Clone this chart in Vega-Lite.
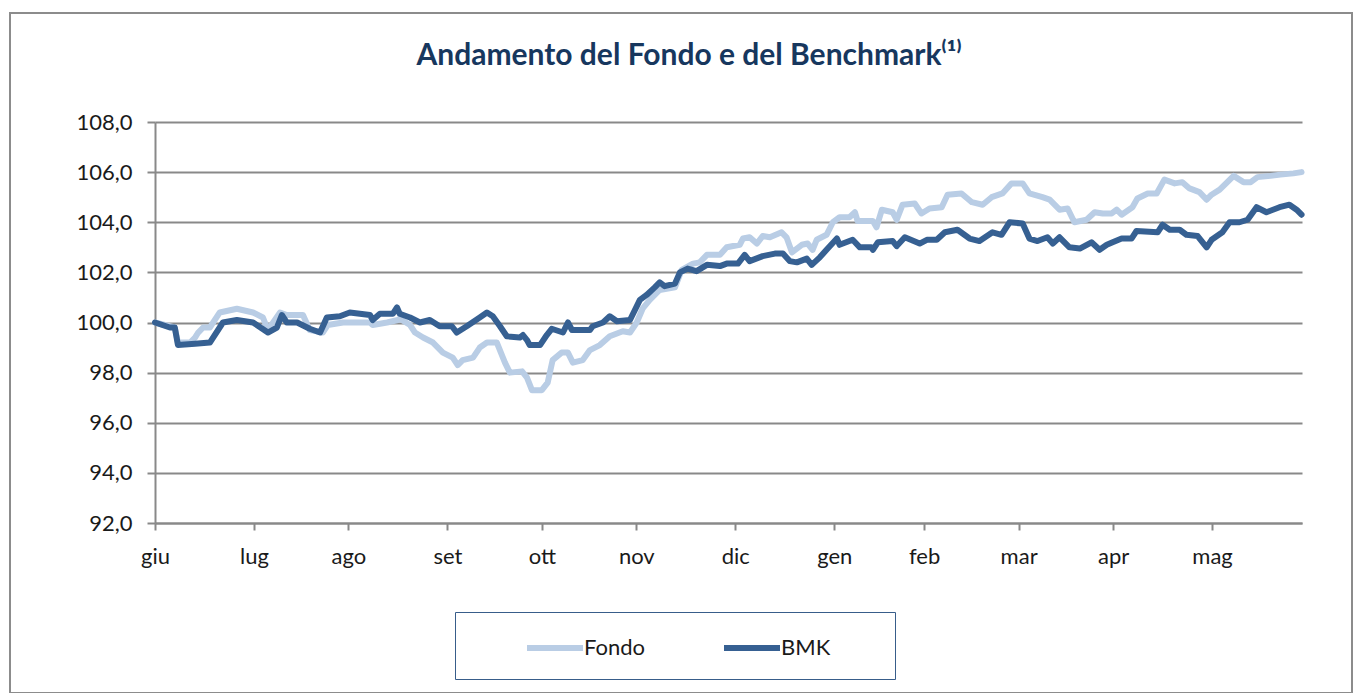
{
  "$schema": "https://vega.github.io/schema/vega-lite/v6.json",
  "width": 1342,
  "height": 680,
  "autosize": {"type": "none"},
  "padding": {"left": 10, "top": 13, "right": 6, "bottom": 0},
  "background": "white",
  "config": {
    "view": {"stroke": "#8c8c8c", "strokeWidth": 2},
    "font": "Lato"
  },
  "title": {
    "text": "Andamento del Fondo e del Benchmark⁽¹⁾",
    "anchor": "middle",
    "frame": "group",
    "dx": 8,
    "dy": 31,
    "offset": -51,
    "baseline": "alphabetic",
    "font": "Lato",
    "fontSize": 30,
    "fontWeight": "bold",
    "color": "#17375e"
  },
  "datasets": {
    "series": [
      {"s":"Fondo","d":0,"v":100.0},{"s":"Fondo","d":3.3,"v":99.85},{"s":"Fondo","d":4.4,"v":99.8},{"s":"Fondo","d":5.1,"v":99.2},{"s":"Fondo","d":7.8,"v":99.2},{"s":"Fondo","d":8.9,"v":99.4},{"s":"Fondo","d":9.6,"v":99.6},{"s":"Fondo","d":10.7,"v":99.8},{"s":"Fondo","d":12.2,"v":99.8},{"s":"Fondo","d":14.4,"v":100.4},{"s":"Fondo","d":18.2,"v":100.55},{"s":"Fondo","d":21.8,"v":100.4},{"s":"Fondo","d":24,"v":100.2},{"s":"Fondo","d":25.1,"v":99.7},{"s":"Fondo","d":27.8,"v":100.4},{"s":"Fondo","d":29.3,"v":100.3},{"s":"Fondo","d":32.9,"v":100.3},{"s":"Fondo","d":34.4,"v":99.7},{"s":"Fondo","d":37.3,"v":99.6},{"s":"Fondo","d":38.4,"v":99.9},{"s":"Fondo","d":41.8,"v":100.0},{"s":"Fondo","d":47.8,"v":100.0},{"s":"Fondo","d":48.4,"v":99.9},{"s":"Fondo","d":51.6,"v":100.0},{"s":"Fondo","d":54,"v":100.1},{"s":"Fondo","d":54.4,"v":100.15},{"s":"Fondo","d":56.7,"v":99.9},{"s":"Fondo","d":57.8,"v":99.6},{"s":"Fondo","d":59.6,"v":99.4},{"s":"Fondo","d":61.8,"v":99.2},{"s":"Fondo","d":64,"v":98.8},{"s":"Fondo","d":66.2,"v":98.6},{"s":"Fondo","d":67.3,"v":98.3},{"s":"Fondo","d":68.4,"v":98.5},{"s":"Fondo","d":70.7,"v":98.6},{"s":"Fondo","d":72.2,"v":99.0},{"s":"Fondo","d":73.8,"v":99.2},{"s":"Fondo","d":76,"v":99.2},{"s":"Fondo","d":77.8,"v":98.4},{"s":"Fondo","d":78.9,"v":98.0},{"s":"Fondo","d":81.6,"v":98.05},{"s":"Fondo","d":82.7,"v":97.8},{"s":"Fondo","d":83.8,"v":97.3},{"s":"Fondo","d":86,"v":97.3},{"s":"Fondo","d":87.3,"v":97.6},{"s":"Fondo","d":88.4,"v":98.5},{"s":"Fondo","d":90.4,"v":98.8},{"s":"Fondo","d":91.8,"v":98.8},{"s":"Fondo","d":92.9,"v":98.4},{"s":"Fondo","d":95.1,"v":98.5},{"s":"Fondo","d":96.7,"v":98.9},{"s":"Fondo","d":98.9,"v":99.1},{"s":"Fondo","d":101.1,"v":99.45},{"s":"Fondo","d":104,"v":99.65},{"s":"Fondo","d":105.6,"v":99.6},{"s":"Fondo","d":107.1,"v":100.0},{"s":"Fondo","d":108.4,"v":100.55},{"s":"Fondo","d":110,"v":100.9},{"s":"Fondo","d":112.2,"v":101.3},{"s":"Fondo","d":115.6,"v":101.4},{"s":"Fondo","d":117.1,"v":102.1},{"s":"Fondo","d":119.6,"v":102.35},{"s":"Fondo","d":121.1,"v":102.4},{"s":"Fondo","d":122.7,"v":102.7},{"s":"Fondo","d":125.6,"v":102.7},{"s":"Fondo","d":127.1,"v":103.0},{"s":"Fondo","d":130,"v":103.1},{"s":"Fondo","d":130.7,"v":103.35},{"s":"Fondo","d":132.2,"v":103.4},{"s":"Fondo","d":133.8,"v":103.15},{"s":"Fondo","d":135.1,"v":103.45},{"s":"Fondo","d":136.7,"v":103.4},{"s":"Fondo","d":139.3,"v":103.6},{"s":"Fondo","d":140.4,"v":103.4},{"s":"Fondo","d":141.6,"v":102.8},{"s":"Fondo","d":143.8,"v":103.1},{"s":"Fondo","d":145.1,"v":103.15},{"s":"Fondo","d":146.2,"v":102.9},{"s":"Fondo","d":147.1,"v":103.3},{"s":"Fondo","d":149.3,"v":103.5},{"s":"Fondo","d":150.7,"v":104.0},{"s":"Fondo","d":152.2,"v":104.2},{"s":"Fondo","d":154.4,"v":104.2},{"s":"Fondo","d":155.6,"v":104.4},{"s":"Fondo","d":156.2,"v":104.05},{"s":"Fondo","d":159.6,"v":104.05},{"s":"Fondo","d":160.4,"v":103.8},{"s":"Fondo","d":161.6,"v":104.5},{"s":"Fondo","d":164,"v":104.4},{"s":"Fondo","d":164.9,"v":104.1},{"s":"Fondo","d":166.2,"v":104.7},{"s":"Fondo","d":168.9,"v":104.75},{"s":"Fondo","d":170.4,"v":104.35},{"s":"Fondo","d":172.2,"v":104.55},{"s":"Fondo","d":174.9,"v":104.6},{"s":"Fondo","d":176.2,"v":105.1},{"s":"Fondo","d":179.3,"v":105.15},{"s":"Fondo","d":181.6,"v":104.8},{"s":"Fondo","d":184,"v":104.7},{"s":"Fondo","d":186,"v":105.0},{"s":"Fondo","d":188.4,"v":105.15},{"s":"Fondo","d":190.4,"v":105.55},{"s":"Fondo","d":192.9,"v":105.55},{"s":"Fondo","d":194.4,"v":105.15},{"s":"Fondo","d":197.3,"v":105.0},{"s":"Fondo","d":198.9,"v":104.9},{"s":"Fondo","d":201.1,"v":104.5},{"s":"Fondo","d":202.9,"v":104.55},{"s":"Fondo","d":204.4,"v":104.0},{"s":"Fondo","d":207.1,"v":104.1},{"s":"Fondo","d":208.9,"v":104.4},{"s":"Fondo","d":210.7,"v":104.35},{"s":"Fondo","d":212.7,"v":104.35},{"s":"Fondo","d":213.8,"v":104.5},{"s":"Fondo","d":214.9,"v":104.3},{"s":"Fondo","d":217.3,"v":104.6},{"s":"Fondo","d":218.4,"v":104.95},{"s":"Fondo","d":220.7,"v":105.15},{"s":"Fondo","d":222.7,"v":105.15},{"s":"Fondo","d":224.4,"v":105.7},{"s":"Fondo","d":226.7,"v":105.55},{"s":"Fondo","d":228.4,"v":105.6},{"s":"Fondo","d":230,"v":105.35},{"s":"Fondo","d":232.2,"v":105.2},{"s":"Fondo","d":233.8,"v":104.9},{"s":"Fondo","d":234.9,"v":105.1},{"s":"Fondo","d":236.7,"v":105.3},{"s":"Fondo","d":238.4,"v":105.6},{"s":"Fondo","d":239.8,"v":105.85},{"s":"Fondo","d":242,"v":105.6},{"s":"Fondo","d":243.6,"v":105.6},{"s":"Fondo","d":245.1,"v":105.8},{"s":"Fondo","d":248,"v":105.85},{"s":"Fondo","d":250.2,"v":105.9},{"s":"Fondo","d":253.1,"v":105.95},{"s":"Fondo","d":254.9,"v":106.0},
      {"s":"BMK","d":0,"v":100.0},{"s":"BMK","d":3.3,"v":99.8},{"s":"BMK","d":4.4,"v":99.8},{"s":"BMK","d":5.1,"v":99.1},{"s":"BMK","d":8.9,"v":99.15},{"s":"BMK","d":12.2,"v":99.2},{"s":"BMK","d":15.1,"v":100.0},{"s":"BMK","d":18.2,"v":100.1},{"s":"BMK","d":21.8,"v":100.0},{"s":"BMK","d":25.1,"v":99.6},{"s":"BMK","d":27.1,"v":99.8},{"s":"BMK","d":28.2,"v":100.3},{"s":"BMK","d":29.3,"v":100.0},{"s":"BMK","d":31.6,"v":100.0},{"s":"BMK","d":34.4,"v":99.75},{"s":"BMK","d":36.7,"v":99.6},{"s":"BMK","d":38.2,"v":100.2},{"s":"BMK","d":41.1,"v":100.25},{"s":"BMK","d":43.3,"v":100.4},{"s":"BMK","d":47.8,"v":100.3},{"s":"BMK","d":48.4,"v":100.1},{"s":"BMK","d":50,"v":100.35},{"s":"BMK","d":52.9,"v":100.35},{"s":"BMK","d":53.8,"v":100.6},{"s":"BMK","d":54.4,"v":100.35},{"s":"BMK","d":56.7,"v":100.2},{"s":"BMK","d":58.9,"v":100.0},{"s":"BMK","d":61.1,"v":100.1},{"s":"BMK","d":63.3,"v":99.85},{"s":"BMK","d":66,"v":99.85},{"s":"BMK","d":67.1,"v":99.6},{"s":"BMK","d":69.3,"v":99.85},{"s":"BMK","d":72.2,"v":100.2},{"s":"BMK","d":73.8,"v":100.4},{"s":"BMK","d":75.1,"v":100.25},{"s":"BMK","d":76.7,"v":99.85},{"s":"BMK","d":78.2,"v":99.45},{"s":"BMK","d":81.1,"v":99.4},{"s":"BMK","d":81.8,"v":99.5},{"s":"BMK","d":82.7,"v":99.3},{"s":"BMK","d":83.3,"v":99.1},{"s":"BMK","d":85.6,"v":99.1},{"s":"BMK","d":87.1,"v":99.5},{"s":"BMK","d":88.2,"v":99.75},{"s":"BMK","d":90.7,"v":99.6},{"s":"BMK","d":91.8,"v":100.0},{"s":"BMK","d":92.7,"v":99.7},{"s":"BMK","d":96.7,"v":99.7},{"s":"BMK","d":97.3,"v":99.85},{"s":"BMK","d":99.6,"v":100.0},{"s":"BMK","d":101.1,"v":100.25},{"s":"BMK","d":102.7,"v":100.05},{"s":"BMK","d":105.6,"v":100.1},{"s":"BMK","d":107.8,"v":100.9},{"s":"BMK","d":109.3,"v":101.1},{"s":"BMK","d":111.1,"v":101.4},{"s":"BMK","d":112.2,"v":101.6},{"s":"BMK","d":113.3,"v":101.45},{"s":"BMK","d":115.6,"v":101.55},{"s":"BMK","d":116.7,"v":102.0},{"s":"BMK","d":118.4,"v":102.15},{"s":"BMK","d":120.4,"v":102.05},{"s":"BMK","d":122.7,"v":102.3},{"s":"BMK","d":125.6,"v":102.25},{"s":"BMK","d":127.1,"v":102.35},{"s":"BMK","d":129.6,"v":102.35},{"s":"BMK","d":131.1,"v":102.7},{"s":"BMK","d":132.2,"v":102.45},{"s":"BMK","d":135.1,"v":102.65},{"s":"BMK","d":137.8,"v":102.75},{"s":"BMK","d":139.6,"v":102.75},{"s":"BMK","d":141.1,"v":102.45},{"s":"BMK","d":142.7,"v":102.4},{"s":"BMK","d":144.9,"v":102.55},{"s":"BMK","d":146,"v":102.3},{"s":"BMK","d":147.8,"v":102.6},{"s":"BMK","d":149.3,"v":102.9},{"s":"BMK","d":151.6,"v":103.35},{"s":"BMK","d":152.2,"v":103.1},{"s":"BMK","d":155.1,"v":103.3},{"s":"BMK","d":156.7,"v":103.0},{"s":"BMK","d":159.3,"v":103.0},{"s":"BMK","d":159.6,"v":102.9},{"s":"BMK","d":160.7,"v":103.2},{"s":"BMK","d":164,"v":103.25},{"s":"BMK","d":164.9,"v":103.05},{"s":"BMK","d":166.7,"v":103.4},{"s":"BMK","d":170,"v":103.15},{"s":"BMK","d":171.6,"v":103.3},{"s":"BMK","d":173.8,"v":103.3},{"s":"BMK","d":175.6,"v":103.6},{"s":"BMK","d":178.4,"v":103.7},{"s":"BMK","d":181.1,"v":103.35},{"s":"BMK","d":183.3,"v":103.25},{"s":"BMK","d":186.2,"v":103.6},{"s":"BMK","d":188.2,"v":103.5},{"s":"BMK","d":190,"v":104.0},{"s":"BMK","d":192.9,"v":103.95},{"s":"BMK","d":194.4,"v":103.35},{"s":"BMK","d":196.2,"v":103.25},{"s":"BMK","d":198.4,"v":103.4},{"s":"BMK","d":199.6,"v":103.15},{"s":"BMK","d":201.1,"v":103.4},{"s":"BMK","d":203.3,"v":103.0},{"s":"BMK","d":205.6,"v":102.95},{"s":"BMK","d":208.2,"v":103.2},{"s":"BMK","d":210,"v":102.9},{"s":"BMK","d":211.6,"v":103.1},{"s":"BMK","d":212.9,"v":103.2},{"s":"BMK","d":214.9,"v":103.35},{"s":"BMK","d":217.1,"v":103.35},{"s":"BMK","d":218.2,"v":103.65},{"s":"BMK","d":222.9,"v":103.6},{"s":"BMK","d":224,"v":103.9},{"s":"BMK","d":225.6,"v":103.7},{"s":"BMK","d":227.8,"v":103.7},{"s":"BMK","d":229.3,"v":103.5},{"s":"BMK","d":231.8,"v":103.45},{"s":"BMK","d":233.8,"v":103.0},{"s":"BMK","d":234.9,"v":103.3},{"s":"BMK","d":237.3,"v":103.6},{"s":"BMK","d":238.9,"v":104.0},{"s":"BMK","d":241.1,"v":104.0},{"s":"BMK","d":242.9,"v":104.1},{"s":"BMK","d":244.9,"v":104.6},{"s":"BMK","d":247.1,"v":104.4},{"s":"BMK","d":250,"v":104.6},{"s":"BMK","d":252.2,"v":104.7},{"s":"BMK","d":253.8,"v":104.5},{"s":"BMK","d":254.9,"v":104.3}
    ]
  },
  "data": {"name": "series"},
  "encoding": {
    "x": {
      "field": "d",
      "type": "quantitative",
      "scale": {"domain": [0, 255], "range": [145, 1292], "nice": false, "zero": false},
      "axis": {
        "orient": "bottom",
        "offset": -170,
        "values": [0, 22, 43, 65, 86, 107, 129, 151, 171, 192, 213, 235],
        "labelExpr": "['giu','lug','ago','set','ott','nov','dic','gen','feb','mar','apr','mag'][indexof([0,22,43,65,86,107,129,151,171,192,213,235], datum.value)]",
        "grid": false,
        "domainColor": "#898989",
        "domainWidth": 2,
        "tickColor": "#898989",
        "tickWidth": 2,
        "tickSize": 7,
        "labelFont": "Lato",
        "labelFontSize": 22,
        "labelColor": "#1a1a1a",
        "labelBaseline": "alphabetic",
        "labelPadding": 33,
        "labelDx": 3,
        "labelFlush": false,
        "labelOverlap": false,
        "labelBound": false,
        "title": null
      }
    },
    "y": {
      "field": "v",
      "type": "quantitative",
      "scale": {"domain": [92, 108], "range": [510, 109], "nice": false, "zero": false},
      "axis": {
        "orient": "left",
        "offset": -145,
        "values": [92, 94, 96, 98, 100, 102, 104, 106, 108],
        "labelExpr": "replace(format(datum.value, '.1f'), '.', ',')",
        "grid": true,
        "gridColor": "#898989",
        "gridWidth": 2,
        "domainColor": "#898989",
        "domainWidth": 2,
        "tickColor": "#898989",
        "tickWidth": 2,
        "tickSize": 8,
        "labelFont": "Lato",
        "labelFontSize": 22,
        "labelColor": "#1a1a1a",
        "labelPadding": 15,
        "labelOverlap": false,
        "labelBound": false,
        "labelFlush": false,
        "title": null
      }
    },
    "color": {
      "field": "s",
      "type": "nominal",
      "scale": {"domain": ["Fondo", "BMK"], "range": ["#b9cde5", "#366092"]},
      "legend": {
        "orient": "none",
        "legendX": 445,
        "legendY": 599,
        "direction": "horizontal",
        "title": "\u00a0",
        "titleOrient": "right",
        "titleFontSize": 1,
        "titlePadding": 46,
        "symbolType": "M-2,0H2",
        "symbolStrokeWidth": 6,
        "symbolSize": 784,
        "symbolOffset": 64,
        "labelOffset": 12,
        "columnPadding": 25,
        "labelFont": "Lato",
        "labelFontSize": 22,
        "labelColor": "#1a1a1a",
        "strokeColor": "#385d8a",
        "padding": 19
      }
    }
  },
  "layer": [
    {
      "transform": [{"filter": "datum.s === 'Fondo'"}],
      "mark": {"type": "line", "strokeWidth": 6, "strokeJoin": "round", "strokeCap": "round"}
    },
    {
      "transform": [{"filter": "datum.s === 'BMK'"}],
      "mark": {"type": "line", "strokeWidth": 6, "strokeJoin": "round", "strokeCap": "round"}
    }
  ]
}
